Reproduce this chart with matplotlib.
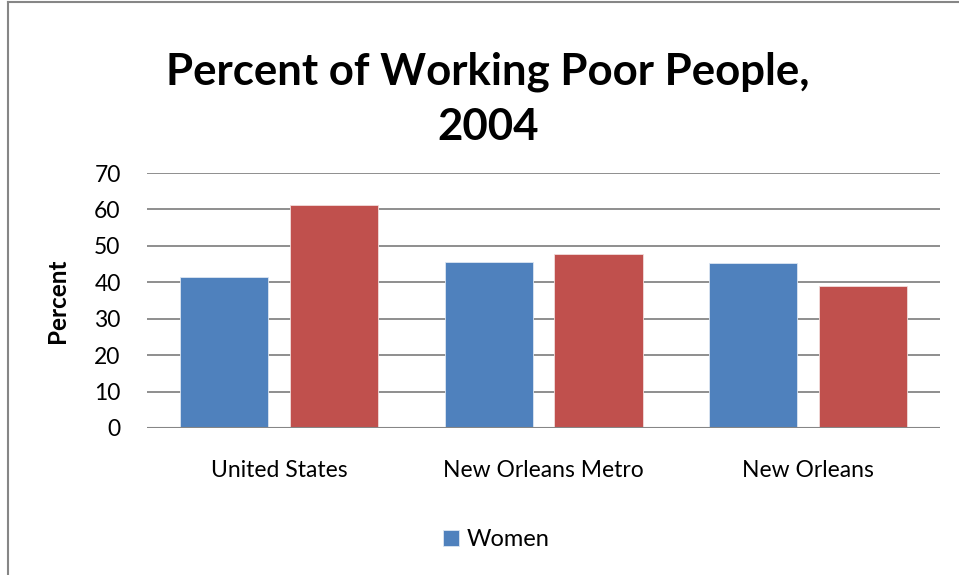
import matplotlib.pyplot as plt
import numpy as np
from matplotlib.lines import Line2D

categories = ["United States", "New Orleans Metro", "New Orleans"]
women = [41.4, 45.6, 45.3]
men = [61.3, 47.7, 39.0]
yticks = [0, 10, 20, 30, 40, 50, 60, 70]

blue = "#4f81bd"
red = "#c0504d"
font = ["Lato", "DejaVu Sans"]

fig = plt.figure(figsize=(9.59, 5.75), dpi=100)
ax = fig.add_axes([0.1533, 0.2557, 0.8269, 0.4433])

x = np.arange(len(categories))
w = 0.333
ax.bar(x - 0.208, women, w, color=blue, edgecolor="#dce6f2", linewidth=0.6, label="Women", zorder=3)
ax.bar(x + 0.208, men, w, color=red, edgecolor="#f2dcdb", linewidth=0.6, zorder=3)

ax.set_xlim(-0.5, len(categories) - 0.5)
ax.set_ylim(0, 70)
ax.set_yticks(yticks)
ax.set_xticks(x)
ax.set_xticklabels(categories, fontsize=16.5, family=font)
for lab in ax.get_yticklabels():
    lab.set_fontsize(16.5)
    lab.set_family(font)
ax.tick_params(axis="y", length=0, pad=19)
ax.tick_params(axis="x", length=0, pad=23)
ax.grid(axis="y", color="#868686", linewidth=1.3, zorder=0)
for s in ax.spines.values():
    s.set_visible(False)
ax.axhline(0, color="#868686", linewidth=1.5, zorder=4)

ax.set_ylabel("Percent", fontsize=17.5, fontweight="bold", family=font, labelpad=18)

fig.text(0.509, 0.828, "Percent of Working Poor People,\n2004", ha="center", va="center",
         fontsize=31.5, fontweight="bold", family=font, linespacing=1.45)

ax.legend(loc="center", frameon=False, prop={"family": font, "size": 17},
          handlelength=0.7, handleheight=0.7, handletextpad=0.3)
leg = ax.get_legend()
leg.set_bbox_to_anchor((0.517, 0.061), transform=fig.transFigure)

# outer chart frame
fig.add_artist(Line2D([0.0083, 1.0], [0.9965, 0.9965], color="#868686", linewidth=1.5, transform=fig.transFigure))
fig.add_artist(Line2D([0.0083, 0.0083], [0.0, 0.9965], color="#868686", linewidth=1.5, transform=fig.transFigure))

fig.savefig("out.png", dpi=100)
